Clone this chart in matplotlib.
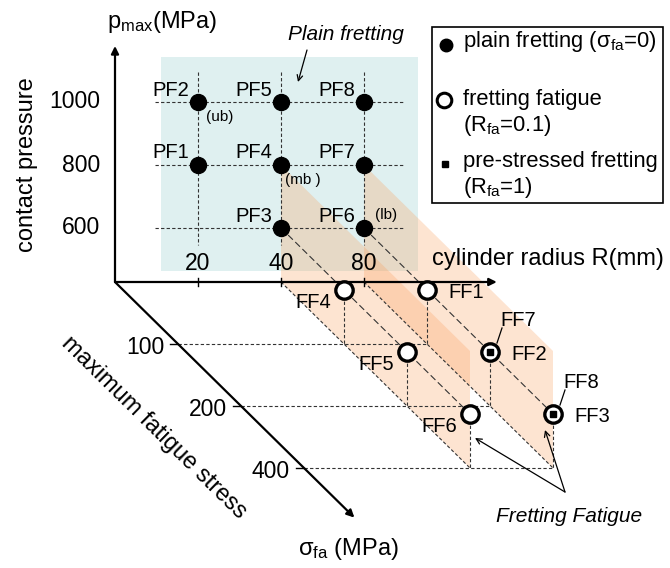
import matplotlib
matplotlib.use('Agg')
import matplotlib.pyplot as plt
from matplotlib.patches import Polygon, Rectangle

plt.rcParams['font.family'] = ['Liberation Sans', 'DejaVu Sans']
plt.rcParams['mathtext.fontset'] = 'custom'
plt.rcParams['mathtext.rm'] = 'Liberation Sans'
plt.rcParams['mathtext.it'] = 'Liberation Sans:italic'
plt.rcParams['mathtext.default'] = 'regular'

# test matrix
radius = [20, 40, 80]          # cylinder radius R (mm)
pressure = [600, 800, 1000]    # contact pressure p_max (MPa)
stress = [100, 200, 400]       # maximum fatigue stress sigma_fa (MPa)

pf_names = ['PF1', 'PF2', 'PF3', 'PF4', 'PF5', 'PF6', 'PF7', 'PF8']
pf_radius = [20, 20, 40, 40, 40, 80, 80, 80]
pf_pressure = [800, 1000, 600, 800, 1000, 600, 800, 1000]
pf_notes = {'PF2': '(ub)', 'PF4': '(mb )', 'PF6': '(lb)'}

ff_names = ['FF1', 'FF2', 'FF3', 'FF4', 'FF5', 'FF6']
ff_radius = [80, 80, 80, 40, 40, 40]
ff_stress = [100, 200, 400, 100, 200, 400]
ff_pressure = 600

ps_names = ['FF7', 'FF8']
ps_radius = [80, 80]
ps_stress = [200, 400]

# oblique projection (pixel units)
X0, Y0 = 115, 282
DR = 83
DSX, DSY = 63, 62
P0, DP = 54, 63

def pt(r, h, s):
    return X0 + DR * r + DSX * s, Y0 - h + DSY * s

def ri(v):
    return radius.index(v) + 1

def si(v):
    return stress.index(v) + 1

def hp(v):
    return P0 + DP * pressure.index(v)

fig = plt.figure(figsize=(6.7, 5.68), dpi=100)
ax = fig.add_axes([0, 0, 1, 1])
ax.set_xlim(0, 670)
ax.set_ylim(568, 0)
ax.axis('off')

grid = dict(color='#333333', lw=0.8, ls=(0, (3, 2)))
longd = dict(color='#333333', lw=0.8, ls=(0, (6, 3)))

# plain fretting region
ax.add_patch(Rectangle((161, 57), 257, 214, fc='#dff0f0', ec='none', zorder=0))

# fretting fatigue planes
for r in [40, 80]:
    corners = [pt(ri(r), hp(800), 0), pt(ri(r), 0, 0),
               pt(ri(r), 0, len(stress)), pt(ri(r), hp(800), len(stress))]
    ax.add_patch(Polygon(corners, closed=True, fc=(0.98, 0.62, 0.36),
                         alpha=0.28, ec='none', zorder=1))

# grid in the plain fretting plane
for p in pressure:
    y = pt(0, hp(p), 0)[1]
    ax.plot([155, 403], [y, y], **grid, zorder=2)
for r in radius:
    x = pt(ri(r), 0, 0)[0]
    ax.plot([x, x], [72, 245], **grid, zorder=2)

# lines along the stress axis
for r in [40, 80]:
    a = pt(ri(r), hp(ff_pressure), 0)
    b = pt(ri(r), hp(ff_pressure), len(stress))
    ax.plot([a[0], b[0]], [a[1], b[1]], **longd, zorder=2)
    a = pt(ri(r), 0, 0)
    b = pt(ri(r), 0, len(stress))
    ax.plot([a[0], b[0]], [a[1], b[1]], **grid, zorder=2)

# floor lines at each stress level
for s in stress:
    a = pt(0, 0, si(s))
    b = pt(ri(max(radius)), 0, si(s))
    ax.plot([a[0], b[0]], [a[1], b[1]], **grid, zorder=2)

# drop lines from fretting fatigue points
for r, s in zip(ff_radius, ff_stress):
    a = pt(ri(r), hp(ff_pressure), si(s))
    b = pt(ri(r), 0, si(s))
    ax.plot([a[0], b[0]], [a[1], b[1]], **grid, zorder=2)

# axes
o = pt(0, 0, 0)
arr = dict(arrowstyle='-|>', lw=1.6, color='black', mutation_scale=11,
           shrinkA=0, shrinkB=0)
for tip in [pt(0, 236, 0), pt(4.6, 0, 0), pt(0, 0, 3.8)]:
    ax.annotate('', xy=tip, xytext=o, arrowprops=arr, zorder=3)

for r in radius:
    x, y = pt(ri(r), 0, 0)
    ax.plot([x, x], [y - 4, y + 4], color='black', lw=1, zorder=3)
    ax.text(x, y - 19, str(r), ha='center', va='center', fontsize=16.5)
for p in pressure:
    x, y = pt(0, hp(p), 0)
    ax.text(100, y, str(p), ha='right', va='center', fontsize=16.5)
for s in stress:
    x, y = pt(0, 0, si(s))
    ax.plot([x - 8, x], [y, y], color='black', lw=1, zorder=3)
    ax.text(x - 14, y + 3, str(s), ha='right', va='center', fontsize=16.5)

ax.text(162, 22, 'p$_{max}$(MPa)', ha='center', va='center', fontsize=17)
ax.text(27, 165, 'contact pressure', rotation=90, ha='center', va='center', fontsize=17)
ax.text(432, 259, 'cylinder radius R(mm)', ha='left', va='center', fontsize=17)
ax.text(154, 428, 'maximum fatigue stress', rotation=-44.5, rotation_mode='anchor',
        ha='center', va='center', fontsize=17)
ax.text(348, 549, 'σ$_{fa}$ (MPa)', ha='center', va='center', fontsize=17)

# plain fretting points
for name, r, p in zip(pf_names, pf_radius, pf_pressure):
    x, y = pt(ri(r), hp(p), 0)
    ax.plot(x, y, 'o', ms=11.5, color='black', zorder=5)
    ax.text(x - 27, y - 12, name, ha='center', va='center', fontsize=14.5, zorder=5)
    if name in pf_notes:
        dy = -13 if p == min(pressure) else 15
        ax.text(x + 22, y + dy, pf_notes[name], ha='center', va='center', fontsize=11, zorder=5)

# fretting fatigue points
for name, r, s in zip(ff_names, ff_radius, ff_stress):
    x, y = pt(ri(r), hp(ff_pressure), si(s))
    ax.plot(x, y, 'o', ms=12.5, mfc='white', mec='black', mew=2.4, zorder=5)
    if r == max(radius):
        ax.text(x + 39, y + 2, name, ha='center', va='center', fontsize=14.5, zorder=5)
    else:
        ax.text(x - 31, y + 12, name, ha='center', va='center', fontsize=14.5, zorder=5)

# pre-stressed fretting points
for name, r, s in zip(ps_names, ps_radius, ps_stress):
    x, y = pt(ri(r), hp(ff_pressure), si(s))
    ax.plot(x, y, 's', ms=4.5, color='black', zorder=6)
    ax.text(x + 28, y - 31, name, ha='center', va='center', fontsize=14.5, zorder=5)
    ax.plot([x + 12, x + 7], [y - 24, y - 9], color='black', lw=0.9, zorder=5)

# annotations
thin = dict(arrowstyle='->', lw=0.9, color='black', shrinkA=0, shrinkB=0)
ax.text(346, 35, 'Plain fretting', ha='center', va='center', fontsize=15, style='italic')
ax.annotate('', xy=(298, 82), xytext=(307, 50), arrowprops=thin)
ax.text(569, 517, 'Fretting Fatigue', ha='center', va='center', fontsize=15, style='italic')
ax.annotate('', xy=(475, 438), xytext=(565, 492), arrowprops=thin)
ax.annotate('', xy=(545, 430), xytext=(565, 492), arrowprops=thin)

# legend box
ax.add_patch(Rectangle((432, 27), 231, 176, fc='white', ec='black', lw=1.2, zorder=4))
ax.plot(446, 45, 'o', ms=9, color='black', zorder=5)
ax.text(463, 42, 'plain fretting (σ$_{fa}$=0)', ha='left', va='center', fontsize=15.8, zorder=5)
ax.plot(444, 100, 'o', ms=10.5, mfc='white', mec='black', mew=2.2, zorder=5)
ax.text(463, 99, 'fretting fatigue', ha='left', va='center', fontsize=15.8, zorder=5)
ax.text(463, 126, '(R$_{fa}$=0.1)', ha='left', va='center', fontsize=15.8, zorder=5)
ax.plot(445, 164, 's', ms=4.5, color='black', zorder=5)
ax.text(463, 161, 'pre-stressed fretting', ha='left', va='center', fontsize=15.8, zorder=5)
ax.text(463, 187, '(R$_{fa}$=1)', ha='left', va='center', fontsize=15.8, zorder=5)

fig.savefig('out.png', dpi=100)
